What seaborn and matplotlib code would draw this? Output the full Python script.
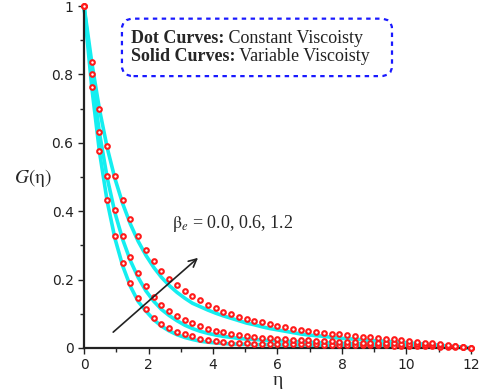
import numpy as np
import pandas as pd
import matplotlib
matplotlib.use("Agg")
import matplotlib.pyplot as plt
from matplotlib.patches import FancyBboxPatch
import seaborn as sns

# eta grid (step 0.24)
eta = [0.00, 0.24, 0.48, 0.72, 0.96, 1.20, 1.44, 1.68, 1.92, 2.16,
       2.40, 2.64, 2.88, 3.12, 3.36, 3.60, 3.84, 4.08, 4.32, 4.56,
       4.80, 5.04, 5.28, 5.52, 5.76, 6.00, 6.24, 6.48, 6.72, 6.96,
       7.20, 7.44, 7.68, 7.92, 8.16, 8.40, 8.64, 8.88, 9.12, 9.36,
       9.60, 9.84, 10.08, 10.32, 10.56, 10.80, 11.04, 11.28, 11.52, 11.76,
       12.00]

# dot curves: constant viscosity
dot_b00 = [1.000, 0.764, 0.577, 0.433, 0.327, 0.248, 0.189, 0.145, 0.113, 0.089,
           0.071, 0.058, 0.048, 0.040, 0.034, 0.027, 0.023, 0.020, 0.018, 0.016,
           0.015, 0.014, 0.013, 0.013, 0.012, 0.012, 0.012, 0.012, 0.012, 0.011,
           0.011, 0.010, 0.010, 0.010, 0.009, 0.009, 0.009, 0.008, 0.008, 0.008,
           0.007, 0.007, 0.006, 0.006, 0.005, 0.005, 0.004, 0.003, 0.003, 0.002,
           0.000]
dot_b06 = [1.000, 0.800, 0.632, 0.503, 0.403, 0.327, 0.266, 0.218, 0.180, 0.150,
           0.127, 0.108, 0.094, 0.083, 0.073, 0.064, 0.057, 0.051, 0.046, 0.042,
           0.038, 0.035, 0.032, 0.030, 0.028, 0.026, 0.025, 0.024, 0.023, 0.022,
           0.021, 0.020, 0.019, 0.018, 0.017, 0.017, 0.016, 0.015, 0.015, 0.014,
           0.014, 0.013, 0.012, 0.011, 0.010, 0.009, 0.008, 0.007, 0.005, 0.003,
           0.000]
dot_b12 = [1.000, 0.837, 0.700, 0.590, 0.503, 0.433, 0.376, 0.327, 0.287, 0.253,
           0.226, 0.203, 0.184, 0.167, 0.152, 0.139, 0.127, 0.116, 0.106, 0.099,
           0.092, 0.085, 0.080, 0.075, 0.070, 0.065, 0.061, 0.057, 0.054, 0.050,
           0.047, 0.045, 0.042, 0.040, 0.037, 0.035, 0.033, 0.031, 0.029, 0.027,
           0.025, 0.023, 0.020, 0.018, 0.016, 0.014, 0.012, 0.009, 0.007, 0.004,
           0.000]

# solid curves: variable viscosity
sol_b00 = [1.000, 0.762, 0.573, 0.428, 0.320, 0.240, 0.180, 0.136, 0.108, 0.083,
           0.064, 0.050, 0.039, 0.031, 0.025, 0.020, 0.017, 0.015, 0.013, 0.012,
           0.011, 0.011, 0.010, 0.010, 0.010, 0.009, 0.009, 0.009, 0.009, 0.008,
           0.008, 0.008, 0.008, 0.007, 0.007, 0.007, 0.006, 0.006, 0.006, 0.005,
           0.005, 0.005, 0.004, 0.004, 0.004, 0.003, 0.003, 0.002, 0.002, 0.001,
           0.000]
sol_b06 = [1.000, 0.798, 0.628, 0.497, 0.395, 0.317, 0.255, 0.206, 0.167, 0.137,
           0.113, 0.095, 0.080, 0.067, 0.057, 0.049, 0.043, 0.038, 0.034, 0.031,
           0.028, 0.026, 0.025, 0.023, 0.022, 0.021, 0.020, 0.019, 0.018, 0.017,
           0.016, 0.015, 0.015, 0.014, 0.013, 0.013, 0.012, 0.012, 0.011, 0.011,
           0.010, 0.010, 0.009, 0.008, 0.007, 0.006, 0.005, 0.004, 0.003, 0.002,
           0.000]
sol_b12 = [1.000, 0.835, 0.697, 0.585, 0.495, 0.422, 0.362, 0.312, 0.271, 0.236,
           0.207, 0.183, 0.163, 0.146, 0.131, 0.121, 0.111, 0.102, 0.094, 0.087,
           0.080, 0.073, 0.068, 0.062, 0.057, 0.053, 0.049, 0.045, 0.041, 0.038,
           0.036, 0.034, 0.031, 0.029, 0.027, 0.026, 0.024, 0.022, 0.021, 0.020,
           0.018, 0.017, 0.015, 0.013, 0.011, 0.010, 0.008, 0.006, 0.004, 0.002,
           0.000]

betas = ["0.0", "0.6", "1.2"]

dots = pd.DataFrame({"eta": eta * 3, "G": dot_b00 + dot_b06 + dot_b12,
                     "beta": np.repeat(betas, len(eta))})
solid = pd.DataFrame({"eta": eta * 3, "G": sol_b00 + sol_b06 + sol_b12,
                      "beta": np.repeat(betas, len(eta))})

sns.set_style("ticks")
plt.rcParams["mathtext.fontset"] = "stix"

fig = plt.figure(figsize=(4.84, 3.90), dpi=100)
ax = fig.add_axes([0.1736, 0.1077, 0.7994, 0.8769])

sns.lineplot(data=solid, x="eta", y="G", hue="beta", palette=["#14eef0"] * 3,
             linewidth=2.6, legend=False, ax=ax, clip_on=False)
sns.scatterplot(data=dots, x="eta", y="G", hue="beta", palette=["red"] * 3,
                marker="o", s=11, linewidth=1.5,
                legend=False, ax=ax, zorder=3, clip_on=False)
# red edges with white centres
for coll in ax.collections:
    coll.set_edgecolor("#ff1a1a")
    coll.set_facecolor("white")

ax.set_xlim(0, 12)
ax.set_ylim(0, 1)
ax.set_xticks([0, 2, 4, 6, 8, 10, 12])
ax.set_xticks([1, 3, 5, 7, 9, 11], minor=True)
ax.set_yticks([0, 0.2, 0.4, 0.6, 0.8, 1])
ax.set_yticklabels(["0", "0.2", "0.4", "0.6", "0.8", "1"])
ax.set_yticks([0.1, 0.3, 0.5, 0.7, 0.9], minor=True)
ax.tick_params(which="major", length=4, width=1, labelsize=10, colors="#222222")
ax.tick_params(which="minor", length=3, width=1)
for s in ["left", "bottom"]:
    ax.spines[s].set_linewidth(1.6)
    ax.spines[s].set_color("#222222")
sns.despine(ax=ax)

ax.set_xlabel("")
ax.set_ylabel("")
fig.text(0.5739, 0.024, "η", fontsize=14, family="Liberation Serif",
         ha="center", va="center")
fig.text(0.068, 0.544, r"$G(\mathrm{\eta})$", fontsize=14, ha="center", va="center")

# legend-like note box
box = FancyBboxPatch((0.098, 0.795), 0.698, 0.168, transform=ax.transAxes,
                     boxstyle="round,pad=0,rounding_size=0.03",
                     fc="white", ec="#1a1aff", lw=1.6, ls=(0, (2, 2)), zorder=4)
ax.add_patch(box)
for ypos, head, tail in [(0.905, "Dot Curves:", " Constant Viscoisty"),
                         (0.853, "Solid Curves:", " Variable Viscoisty")]:
    t1 = ax.text(0.121, ypos, head, transform=ax.transAxes, fontsize=13,
                 family="Liberation Serif", weight="bold", va="center", zorder=5)
    ax.annotate(tail, xy=(1, 0.5), xycoords=t1, va="center", fontsize=13,
                family="Liberation Serif", color="#222222", zorder=5)

ax.text(4.6, 0.365, r"$\mathrm{\beta}_e$ = 0.0, 0.6, 1.2", fontsize=13,
        family="Liberation Serif", ha="center", va="center")
ax.annotate("", xy=(3.6, 0.269), xytext=(0.84, 0.041),
            arrowprops=dict(arrowstyle="->", color="#222222", lw=1.2,
                            mutation_scale=14))

fig.savefig("out.png", dpi=100)
